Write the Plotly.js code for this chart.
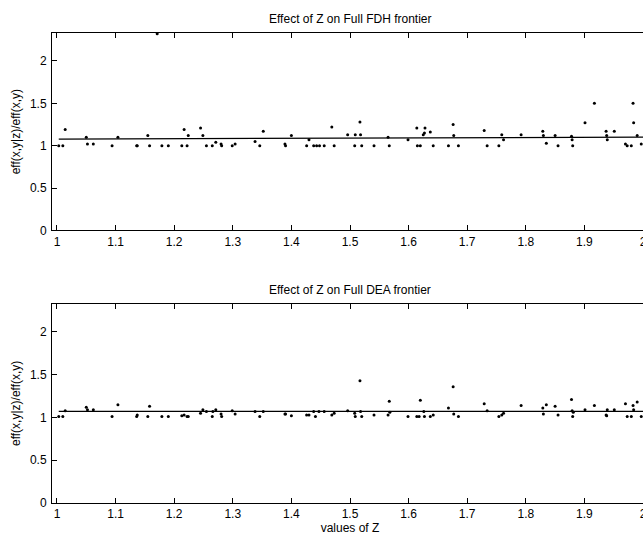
<!DOCTYPE html>
<html>
<head>
<meta charset="utf-8">
<script src="https://cdn.plot.ly/plotly-3.0.1.min.js"></script>
<style>
html,body{margin:0;padding:0;overflow:hidden;background:#fff;}
#chart{width:650px;height:535px;}
</style>
</head>
<body>
<div id="chart"></div>
<script>
// Top panel: FDH frontier
const fdhZ = [1.003,1.010,1.014,1.050,1.052,1.062,1.094,1.104,1.136,1.137,1.155,1.158,1.171,1.179,1.190,1.213,1.217,1.222,1.224,1.245,1.249,1.255,1.265,1.271,1.280,1.281,1.299,1.304,1.338,1.346,1.352,1.389,1.390,1.400,1.426,1.430,1.438,1.443,1.448,1.456,1.469,1.473,1.496,1.508,1.509,1.517,1.518,1.520,1.541,1.565,1.567,1.599,1.614,1.615,1.620,1.625,1.627,1.628,1.637,1.642,1.668,1.676,1.677,1.685,1.729,1.734,1.754,1.759,1.762,1.792,1.829,1.830,1.835,1.850,1.855,1.878,1.879,1.880,1.901,1.917,1.937,1.938,1.939,1.951,1.970,1.973,1.980,1.983,1.984,1.990,1.997];
const fdhRatio = [1.00,1.00,1.19,1.10,1.02,1.02,1.00,1.10,1.00,1.00,1.12,1.00,2.32,1.00,1.00,1.00,1.19,1.00,1.12,1.21,1.12,1.00,1.00,1.04,1.02,1.00,1.00,1.02,1.05,1.00,1.17,1.02,1.00,1.12,1.00,1.07,1.00,1.00,1.00,1.00,1.22,1.00,1.13,1.00,1.13,1.28,1.13,1.00,1.00,1.10,1.00,1.07,1.21,1.00,1.00,1.13,1.15,1.21,1.16,1.00,1.00,1.25,1.12,1.00,1.18,1.00,1.00,1.13,1.07,1.13,1.17,1.12,1.03,1.12,1.00,1.11,1.07,1.00,1.27,1.50,1.17,1.12,1.07,1.17,1.02,1.00,1.00,1.50,1.27,1.12,1.02];
const fdhFitZ = [1.003,1.25,1.5,1.75,2.0];
const fdhFit = [1.078,1.082,1.087,1.093,1.100];

// Bottom panel: DEA frontier
const deaZ = [1.003,1.010,1.014,1.050,1.052,1.062,1.094,1.104,1.136,1.137,1.155,1.158,1.179,1.190,1.213,1.217,1.222,1.224,1.245,1.249,1.255,1.265,1.266,1.271,1.280,1.281,1.299,1.304,1.338,1.346,1.352,1.389,1.390,1.400,1.426,1.430,1.438,1.441,1.447,1.456,1.469,1.473,1.496,1.508,1.509,1.517,1.518,1.520,1.541,1.565,1.567,1.568,1.599,1.614,1.618,1.620,1.626,1.627,1.637,1.642,1.668,1.676,1.677,1.685,1.729,1.734,1.754,1.759,1.762,1.792,1.829,1.830,1.835,1.850,1.855,1.878,1.879,1.880,1.881,1.901,1.917,1.937,1.938,1.939,1.951,1.970,1.973,1.980,1.983,1.984,1.990,1.997];
const deaRatio = [1.01,1.01,1.08,1.12,1.09,1.09,1.01,1.15,1.01,1.03,1.01,1.13,1.01,1.01,1.02,1.03,1.01,1.01,1.05,1.09,1.07,1.01,1.07,1.09,1.04,1.01,1.08,1.04,1.07,1.01,1.07,1.04,1.04,1.02,1.03,1.03,1.07,1.01,1.07,1.07,1.03,1.05,1.08,1.05,1.01,1.43,1.07,1.01,1.03,1.03,1.19,1.06,1.01,1.01,1.01,1.20,1.07,1.01,1.01,1.03,1.11,1.36,1.04,1.01,1.16,1.08,1.01,1.03,1.05,1.14,1.11,1.04,1.15,1.13,1.03,1.21,1.08,1.01,1.06,1.09,1.14,1.03,1.02,1.09,1.09,1.16,1.01,1.01,1.14,1.09,1.18,1.01];
const deaFitZ = [1.003,1.5,2.0];
const deaFit = [1.072,1.072,1.071];

const titles = ['Effect of Z on Full FDH frontier','Effect of Z on Full DEA frontier'];
const xTickVals = [1,1.1,1.2,1.3,1.4,1.5,1.6,1.7,1.8,1.9,2];
const xTickText = ['1','1.1','1.2','1.3','1.4','1.5','1.6','1.7','1.8','1.9','2'];
const yTickVals = [0,0.5,1,1.5,2];
const yTickText = ['0','0.5','1','1.5','2'];
const yLabel = 'eff(x,y|z)/eff(x,y)';
const xLabel = 'values of Z';

const FONT = 'Liberation Sans, Arial, Helvetica, sans-serif';

const dotStyle = {color:'#000', size:3};
const traces = [
  {x:fdhZ, y:fdhRatio, mode:'markers', type:'scatter', marker:dotStyle, xaxis:'x', yaxis:'y', showlegend:false},
  {x:fdhFitZ, y:fdhFit, mode:'lines', type:'scatter', line:{color:'#000', width:1.2}, xaxis:'x', yaxis:'y', showlegend:false},
  {x:deaZ, y:deaRatio, mode:'markers', type:'scatter', marker:dotStyle, xaxis:'x2', yaxis:'y2', showlegend:false},
  {x:deaFitZ, y:deaFit, mode:'lines', type:'scatter', line:{color:'#000', width:1.2}, xaxis:'x2', yaxis:'y2', showlegend:false}
];

function xAx(anchor, withTitle){
  const a = {
    anchor: anchor, range:[0.9915, 2.0085], tickvals:xTickVals, ticktext:xTickText,
    ticks:'inside', ticklen:5, tickwidth:1, tickcolor:'#000',
    showline:true, linecolor:'#000', linewidth:1, mirror:'ticks',
    showgrid:false, zeroline:false, tickfont:{family:FONT, size:12, color:'#000'},
    ticklabelstandoff:0
  };
  if (withTitle) a.title = {text:xLabel, font:{family:FONT, size:12, color:'#000'}, standoff:0};
  return a;
}
function yAx(anchor, dom){
  return {
    anchor: anchor, domain: dom, range:[0, 2.33], tickvals:yTickVals, ticktext:yTickText,
    ticks:'inside', ticklen:5, tickwidth:1, tickcolor:'#000',
    showline:true, linecolor:'#000', linewidth:1, mirror:'ticks',
    showgrid:false, zeroline:false, tickfont:{family:FONT, size:12, color:'#000'},
    ticklabelstandoff:2,
    title:{text:yLabel, font:{family:FONT, size:12, color:'#000'}, standoff:6}
  };
}

const layout = {
  width:650, height:535,
  margin:{l:52, r:2, t:33, b:32},
  paper_bgcolor:'#fff', plot_bgcolor:'#fff',
  font:{family:FONT, size:12, color:'#000'},
  xaxis: xAx('y', false),
  yaxis: yAx('x', [0.58, 1]),
  xaxis2: xAx('y2', true),
  yaxis2: yAx('x2', [0, 0.424]),
  annotations: [
    {text:titles[0], xref:'x domain', yref:'y domain', x:0.5, y:1, yshift:14, showarrow:false, xanchor:'center', yanchor:'middle', font:{family:FONT, size:12, color:'#000'}},
    {text:titles[1], xref:'x2 domain', yref:'y2 domain', x:0.5, y:1, yshift:14, showarrow:false, xanchor:'center', yanchor:'middle', font:{family:FONT, size:12, color:'#000'}}
  ]
};

Plotly.newPlot('chart', traces, layout, {displayModeBar:false, staticPlot:true});
</script>
</body>
</html>
